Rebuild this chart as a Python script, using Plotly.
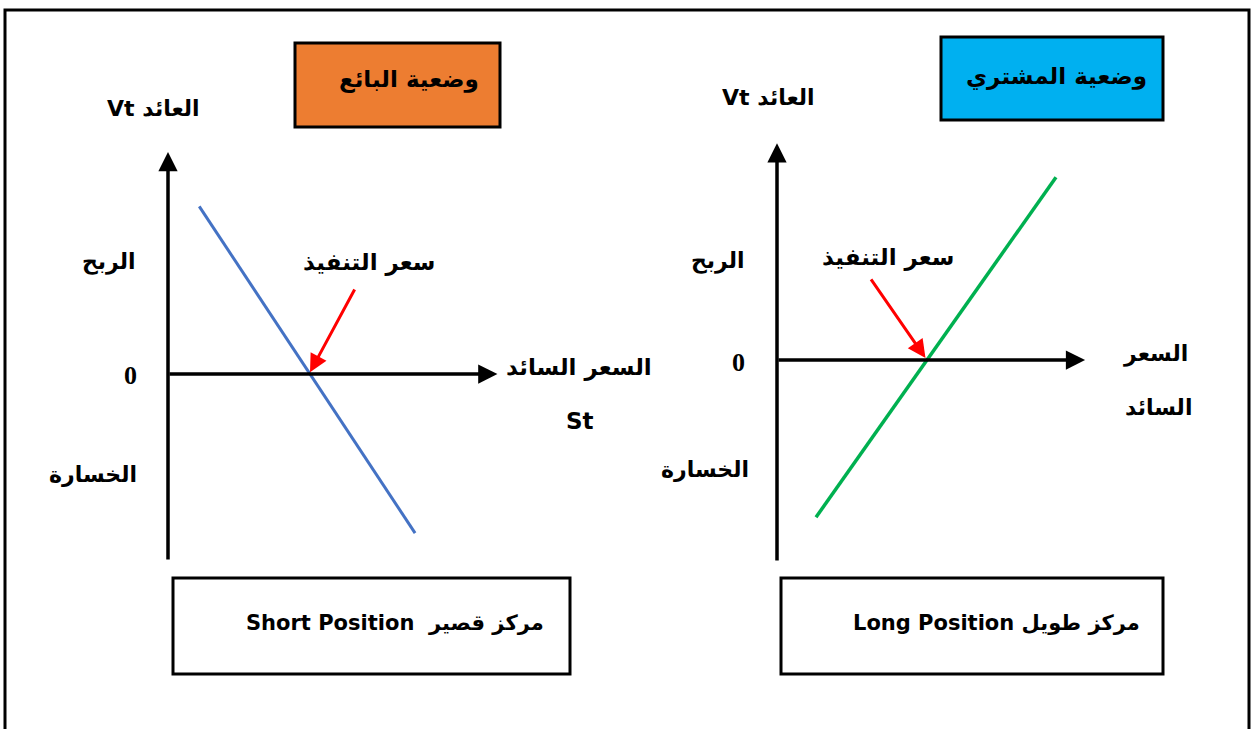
import plotly.graph_objects as go

W, H = 1254, 729

# ---- data ----
strike = 5.0
short_spot = [1.1, 8.7]          # seller (short position) payoff line
short_payoff = [3.9, -3.7]
long_spot = [1.3, 9.3]           # buyer (long position) payoff line
long_payoff = [-3.7, 4.3]

# axis extents of each panel (spot, payoff)
left_axes = {"x_end": 11.6, "y_top": 5.16, "y_bottom": -4.35}
right_axes = {"x_end": 10.27, "y_top": 5.1, "y_bottom": -4.75}
left_pointer_tail = (6.6, 2.0)
right_pointer_tail = (3.1, 1.93)

# ---- pixel mapping for each panel ----
L = dict(ox=168, oy=374, sx=28.4, sy=43.0)
R = dict(ox=777, oy=360, sx=30.0, sy=42.5)


def xr(p):
    return [(0 - p["ox"]) / p["sx"], (W - p["ox"]) / p["sx"]]


def yr(p):
    return [(p["oy"] - H) / p["sy"], p["oy"] / p["sy"]]


fig = go.Figure()
fig.add_trace(go.Scatter(x=short_spot, y=short_payoff, mode="lines",
                         line=dict(color="#4472C4", width=3), xaxis="x", yaxis="y",
                         showlegend=False, hoverinfo="skip"))
fig.add_trace(go.Scatter(x=long_spot, y=long_payoff, mode="lines",
                         line=dict(color="#00B050", width=3.5), xaxis="x2", yaxis="y2",
                         showlegend=False, hoverinfo="skip"))

ax_common = dict(visible=False, showgrid=False, zeroline=False, fixedrange=True)
fig.update_layout(
    width=W, height=H,
    margin=dict(l=0, r=0, t=0, b=0),
    paper_bgcolor="white", plot_bgcolor="rgba(0,0,0,0)",
    xaxis=dict(range=xr(L), domain=[0, 1], anchor="y", **ax_common),
    yaxis=dict(range=yr(L), domain=[0, 1], anchor="x", **ax_common),
    xaxis2=dict(range=xr(R), domain=[0, 1], anchor="y2", overlaying="x", **ax_common),
    yaxis2=dict(range=yr(R), domain=[0, 1], anchor="x2", overlaying="y", **ax_common),
    showlegend=False,
)

ann = []


def arrow(xref, yref, tip, tail, color, width, size=1.0):
    ann.append(dict(x=tip[0], y=tip[1], ax=tail[0], ay=tail[1],
                    xref=xref, yref=yref, axref=xref, ayref=yref,
                    showarrow=True, arrowhead=2, arrowsize=size,
                    arrowwidth=width, arrowcolor=color, text=""))


# axes with arrows
arrow("x", "y", (0, left_axes["y_top"]), (0, left_axes["y_bottom"]), "black", 3.5, 1.1)
arrow("x", "y", (left_axes["x_end"], 0), (0, 0), "black", 3.5, 1.1)
arrow("x2", "y2", (0, right_axes["y_top"]), (0, right_axes["y_bottom"]), "black", 3.5, 1.1)
arrow("x2", "y2", (right_axes["x_end"], 0), (0, 0), "black", 3.5, 1.1)
# strike-price pointers
arrow("x", "y", (strike, 0.04), left_pointer_tail, "#FF0000", 3, 1.2)
arrow("x2", "y2", (strike - 0.05, 0.05), right_pointer_tail, "#FF0000", 3, 1.2)

AR = "DejaVu Sans"


def label(px, py, text, size=23, family=AR, xanchor="center"):
    ann.append(dict(x=px / W, y=1 - py / H, xref="paper", yref="paper",
                    text="<b>" + text + "</b>", showarrow=False,
                    xanchor=xanchor, yanchor="middle",
                    font=dict(family=family, size=size, color="black")))


# left panel texts
label(153, 108, "Vt العائد", 22)
label(409, 80, "وضعية البائع", 23)
label(109, 262, "الربح", 22)
label(369, 263, "سعر التنفيذ", 23)
label(130, 375, "0", 26, "Liberation Serif")
label(579, 367, "السعر السائد", 23)
label(580, 421, "St", 23)
label(93, 474, "الخسارة", 22)
label(395, 623, "Short Position  مركز قصير", 21)

# right panel texts
label(768, 97, "Vt العائد", 22)
label(1056, 76, "وضعية المشتري", 23)
label(718, 261, "الربح", 22)
label(888, 258, "سعر التنفيذ", 23)
label(738, 362, "0", 26, "Liberation Serif")
label(1155, 354, "السعر", 22)
label(1158, 407, "السائد", 22)
label(705, 469, "الخسارة", 22)
label(996, 623, "Long Position مركز طويل", 21)

fig.update_layout(annotations=ann)


def rect(x0, y0, x1, y1, fill, lw=3):
    return dict(type="rect", xref="paper", yref="paper",
                x0=x0 / W, x1=x1 / W, y0=1 - y1 / H, y1=1 - y0 / H,
                fillcolor=fill, line=dict(color="black", width=lw), layer="below")


shapes = [
    rect(295, 43, 500, 127, "#ED7D31"),
    rect(941, 37, 1163, 120, "#00B0F0"),
    rect(173, 578, 570, 674, "white"),
    rect(781, 578, 1163, 674, "white"),
    # outer frame
    dict(type="path", xref="paper", yref="paper",
         path=f"M {5/W},{-0.1} L {5/W},{1-10/H} L {1249/W},{1-10/H} L {1249/W},{-0.1}",
         line=dict(color="black", width=3), layer="below"),
]
fig.update_layout(shapes=shapes)

fig.write_html("out.html",
               config={"displayModeBar": False, "staticPlot": True},
               post_script="document.body.style.margin='0';document.body.style.overflow='hidden';")
